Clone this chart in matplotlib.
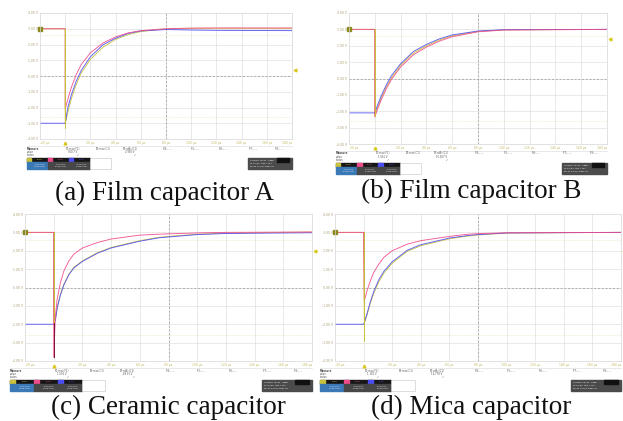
import matplotlib
matplotlib.use('Agg')
import matplotlib.pyplot as plt
import matplotlib.patches as mpatches

W_PX, H_PX = 623, 421

# colours of the scope channels
YEL = '#c9c13a'
PNK = '#f04a8c'
BLU = '#4c4cf2'
DRK = '#7c1438'

captions = ['(a) Film capacitor A', '(b) Film capacitor B',
            '(c) Ceramic capacitor', '(d) Mica capacitor']

time_ticks = [-20, 0, 20, 40, 60, 80, 100, 120, 140, 160, 180]
time_labels = ['-20 µs', '', '20 µs', '40 µs', '60 µs', '80 µs',
               '100 µs', '120 µs', '140 µs', '160 µs', '180 µs']
volt_labels = ['-4.00 V', '-3.00 V', '-2.00 V', '-1.00 V', '0.00 V',
               '1.00 V', '2.00 V', '3.00 V', '4.00 V']
measure_cols = ['P1:max(F1)', 'P2:max(C1)', 'P3:rdBc(C1)', 'P4:- - -',
                'P5:- - -', 'P6:- - -', 'P7:- - -', 'P8:- - -']

# ---- (a) film capacitor A  (time in µs, level in divisions)
t_a = [0, 2.1, 4.8, 8.8, 12.8, 20, 30, 40, 50, 60, 80, 100, 120, 180]
a_yel = [-3.05, -2.3, -1.47, -0.53, 0.2, 1.05, 1.83, 2.32, 2.63, 2.82, 3.0, 3.03, 3.03, 3.03]
a_red = [-2.1, -1.47, -0.74, 0.1, 0.74, 1.47, 2.1, 2.48, 2.74, 2.88, 3.0, 3.04, 3.05, 3.05]
a_blu = [-3.0, -2.0, -1.22, -0.32, 0.36, 1.22, 1.98, 2.4, 2.7, 2.86, 2.95, 2.92, 2.9, 2.88]
a_pre = [3.0, 3.0, -3.0]
a_vals = ['960.7 V', '2.998 V']

# ---- (b) film capacitor B
t_b = [0, 2, 5, 9, 13, 20, 30, 40, 50, 60, 80, 100, 180]
b_yel = [-2.25, -1.8, -1.2, -0.5, 0.05, 0.8, 1.55, 2.0, 2.35, 2.6, 2.88, 2.97, 3.0]
b_red = [-2.35, -1.9, -1.3, -0.62, -0.05, 0.7, 1.45, 1.92, 2.28, 2.55, 2.85, 2.96, 3.0]
b_blu = [-2.1, -1.65, -1.05, -0.38, 0.18, 0.9, 1.65, 2.08, 2.42, 2.66, 2.9, 2.98, 3.0]
b_pre = [3.0, 3.0, -2.1]
b_vals = ['1.561 V', '10.927 V']

# ---- (c) ceramic capacitor
t_c = [0, 1.2, 2.4, 4.7, 7.1, 10.6, 14.1, 20, 30.6, 40, 60, 73, 80, 100, 120, 180]
c_yel = [-1.9, -1.73, -1.1, -0.36, 0.18, 0.73, 1.1, 1.45, 1.9, 2.18, 2.55, 2.73, 2.78, 2.9, 2.96, 3.02]
c_red = [-3.8, -1.55, -0.64, 0.27, 0.9, 1.45, 1.82, 2.15, 2.45, 2.64, 2.85, 2.9, 2.92, 2.97, 3.0, 3.02]
c_blu = [-2.0, -1.78, -1.14, -0.4, 0.14, 0.7, 1.07, 1.42, 1.87, 2.15, 2.52, 2.7, 2.75, 2.88, 2.94, 2.98]
c_pre = [3.0, 3.0, -2.0]
c_vals = ['1.556 V', '-48.91 V']

# ---- (d) mica capacitor
t_d = [0.5, 2.4, 4.7, 7.1, 10.6, 14.1, 20, 30.6, 40, 60, 73, 80, 100, 180]
d_yel = [-1.95, -1.5, -0.86, -0.32, 0.3, 0.77, 1.32, 1.97, 2.27, 2.65, 2.8, 2.86, 2.96, 3.0]
d_red = [-0.73, -0.18, 0.36, 0.82, 1.27, 1.64, 2.0, 2.36, 2.55, 2.78, 2.9, 2.93, 2.98, 3.0]
d_blu = [-1.9, -1.42, -0.78, -0.22, 0.42, 0.87, 1.4, 2.03, 2.33, 2.69, 2.83, 2.88, 2.97, 3.0]
d_pre = [3.0, 3.0, -2.0]
d_vals = ['1.180 V', '14.778 V']

# spike at the trigger instant: (colour, bottom level)
a_spk = [(YEL, -3.3)]
b_spk = [(YEL, -2.3)]
c_spk = [(DRK, -3.8), (YEL, -1.9)]
d_spk = [(DRK, -0.85), (YEL, -2.9)]
trig_levels = [0.4, 2.4, 2.0, 2.0]

fig = plt.figure(figsize=(W_PX / 100, H_PX / 100), dpi=100)
bg = fig.add_axes([0, 0, 1, 1], zorder=0)
bg.set_xlim(0, W_PX)
bg.set_ylim(H_PX, 0)
bg.axis('off')


def draw_scope(rect, t, yel, red, blu, pre, spikes, trig, vals):
    L, T, R, B = rect
    Wp, Hp = R - L, B - T
    ax = fig.add_axes([L / W_PX, 1 - B / H_PX, Wp / W_PX, Hp / H_PX], zorder=2)
    ax.set_xlim(-20, 180)
    ax.set_ylim(-4, 4)
    for x in time_ticks[1:-1]:
        ax.axvline(x, color='#e0e0e0', lw=0.5, zorder=0)
    for y in range(-3, 4):
        ax.axhline(y, color='#e0e0e0', lw=0.5, zorder=0)
    ax.axvline(80, color='#a6a6a6', lw=0.6, ls=(0, (2.5, 2)), zorder=0)
    ax.axhline(0, color='#a6a6a6', lw=0.6, ls=(0, (2.5, 2)), zorder=0)
    for y in (2.6, -2.6):
        ax.axhline(y, color='#e4e0b4', lw=0.5, ls=(0, (1, 1.5)), zorder=0)

    for col, ser, p in ((YEL, yel, pre[0]), (BLU, blu, pre[2]), (PNK, red, pre[1])):
        ax.plot([-20, 0] + t, [p, p] + ser, color=col, lw=0.65, alpha=0.9)
    for col, bottom in spikes:
        ax.plot([0, 0], [pre[0], bottom], color=col, lw=0.7)

    ax.plot(-20, pre[0], marker='s', ms=2.6, color='#8c8a1e', clip_on=False)
    ax.plot(182, trig, marker='<', ms=2, color='#d8c820', clip_on=False)
    ax.plot(0, -4.25, marker='^', ms=2, color='#d8c820', clip_on=False)

    ax.set_xticks(time_ticks, time_labels)
    ax.set_yticks(range(-4, 5), volt_labels)
    ax.tick_params(length=0, pad=1.2, labelsize=2.2)
    ax.tick_params(axis='x', labelcolor='#c2b860')
    ax.tick_params(axis='y', labelcolor='#a89a70')
    xl = ax.get_xticklabels()
    xl[0].set_ha('left')
    xl[-1].set_ha('right')
    for s in ax.spines.values():
        s.set_color('#d4d4d4')
        s.set_linewidth(0.5)

    # Teledyne LeCroy logo
    bg.plot(L + 0.865 * Wp, T + 0.055 * Hp, marker='v', ms=3, color='#333333')
    bg.text(L + 0.885 * Wp, T + 0.045 * Hp, 'TELEDYNE LECROY', fontsize=1.8,
            weight='bold', color='#444444', va='center')
    bg.text(L + 0.885 * Wp, T + 0.075 * Hp, 'Everywhereyoulook', fontsize=1.4,
            color='#666666', va='center')

    # measure table
    x0 = L - 0.052 * Wp
    bg.plot([x0, R], [B + 7, B + 7], color='#d6d6d6', lw=0.4)
    for i, lab in enumerate(['Measure', 'value', 'status']):
        bg.text(x0, B + 9.5 + 3.2 * i, lab, fontsize=1.8, color='#444444',
                va='center', weight='bold' if i == 0 else 'normal')
    colx = [0.13, 0.25, 0.357, 0.504, 0.615, 0.726, 0.845, 0.95]
    for cx, lab in zip(colx, measure_cols):
        bg.text(L + cx * Wp, B + 9.5, lab, fontsize=1.8, color='#555555',
                ha='center', va='center')
    bg.text(L + colx[0] * Wp, B + 12.7, vals[0], fontsize=1.8, color='#555555',
            ha='center', va='center')
    bg.text(L + colx[2] * Wp, B + 12.7, vals[1], fontsize=1.8, color='#555555',
            ha='center', va='center')
    for cx in (colx[0], colx[2]):
        bg.text(L + (cx + 0.02) * Wp, B + 15.6, '✓', fontsize=1.8,
                color='#555555', ha='center', va='center')

    # channel descriptor boxes
    bw, by, bh = 0.083 * Wp, B + 18.5, 11
    for i, col in enumerate([YEL, PNK, BLU]):
        x = x0 + i * bw
        bg.add_patch(mpatches.Rectangle((x, by), bw, bh * 0.42, color='#161616'))
        bg.add_patch(mpatches.Rectangle((x, by), bw * 0.22, bh * 0.42, color=col))
        bg.text(x + bw * 0.6, by + bh * 0.21, 'DC1M', fontsize=1.4, color=col,
                ha='center', va='center')
        body = '#3b78b6' if i == 0 else '#474747'
        bg.add_patch(mpatches.Rectangle((x, by + bh * 0.42), bw, bh * 0.58,
                                        color=body))
        bg.text(x + bw * 0.6, by + bh * 0.6, '2.00 V/div', fontsize=1.3,
                color='white', ha='center', va='center')
        bg.text(x + bw * 0.6, by + bh * 0.85, '0.000 V ofst', fontsize=1.3,
                color='white', ha='center', va='center')
    bg.add_patch(mpatches.Rectangle((x0 + 3 * bw, by), bw, bh, fc='white',
                                    ec='#cfcfcf', lw=0.5))
    rx = L + 0.826 * Wp
    bg.add_patch(mpatches.Rectangle((rx, by), R - rx, bh, color='#4b4b4b'))
    bg.add_patch(mpatches.Rectangle((L + 0.94 * Wp, by), 0.05 * Wp, bh * 0.42,
                                    color='#111111'))
    bg.text(rx + 2, by + bh * 0.25, 'Timebase  40.0 µs   Trigger', fontsize=1.3,
            color='white', va='center')
    bg.text(rx + 2, by + bh * 0.55, '20.0 µs/div   Stop  1.26 V', fontsize=1.3,
            color='white', va='center')
    bg.text(rx + 2, by + bh * 0.82, '500 kS  2.5 GS/s  Edge  Pos', fontsize=1.3,
            color='white', va='center')


draw_scope((40, 13, 292, 139), t_a, a_yel, a_red, a_blu, a_pre, a_spk,
           trig_levels[0], a_vals)
draw_scope((349, 13, 607, 144), t_b, b_yel, b_red, b_blu, b_pre, b_spk,
           trig_levels[1], b_vals)
draw_scope((25, 214, 312, 361), t_c, c_yel, c_red, c_blu, c_pre, c_spk,
           trig_levels[2], c_vals)
draw_scope((335, 214, 621, 361), t_d, d_yel, d_red, d_blu, d_pre, d_spk,
           trig_levels[3], d_vals)

cap_pos = [(164.5, 200), (471, 198.5), (168, 414), (471.5, 414)]
for (cx, cy), txt in zip(cap_pos, captions):
    bg.text(cx, cy, txt, ha='center', va='baseline', fontsize=19.5,
            family=['Liberation Serif', 'DejaVu Serif'], color='#111111')

fig.savefig('out.png', dpi=100, facecolor='white')
